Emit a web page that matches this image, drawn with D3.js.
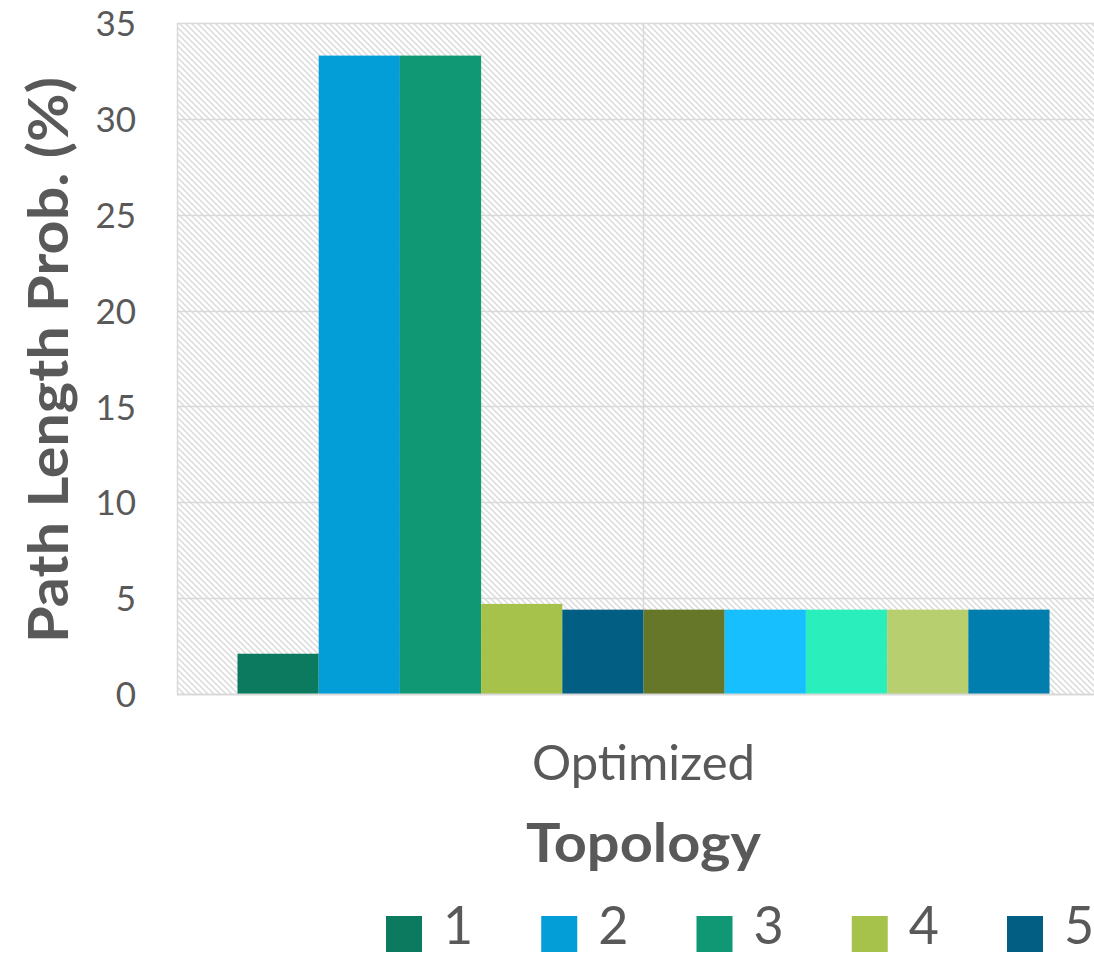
<!DOCTYPE html>
<html>
<head>
<meta charset="utf-8">
<script src="https://cdn.jsdelivr.net/npm/d3@7"></script>
<style>
  html, body { margin: 0; padding: 0; background: #fff; }
  svg { display: block; }
  text { font-family: Lato, "Open Sans", sans-serif; fill: #595959; }
</style>
</head>
<body>
<svg id="chart" width="1094" height="957"></svg>
<script>
// ---- data ----
const categories = ["Optimized"];
const seriesNames = ["1", "2", "3", "4", "5", "6", "7", "8", "9", "10"];
const seriesValues = [2.1, 33.3, 33.3, 4.7, 4.4, 4.4, 4.4, 4.4, 4.4, 4.4];
const seriesColors = ["#0B7A5E", "#039DD8", "#0F9873", "#A7C24A", "#025E82",
                      "#66772A", "#17BFFF", "#2AEFBC", "#B8CF70", "#007EAD"];
const yTicks = [0, 5, 10, 15, 20, 25, 30, 35];
const yTitle = "Path Length Prob. (%)";
const xTitle = "Topology";
const legendShown = 5; // only the first five legend entries are visible in the reference

// ---- layout ----
const svg = d3.select("#chart");
const plot = { left: 177, right: 1110, top: 23, bottom: 694 };

const x0 = d3.scaleBand().domain(categories).range([plot.left, plot.right]).padding(0);
const x1 = d3.scaleBand().domain(seriesNames).range([0, x0.bandwidth()])
  .paddingInner(0).paddingOuter(0.745);
const y = d3.scaleLinear().domain([0, 35]).range([plot.bottom, plot.top]);

// hatch pattern
const defs = svg.append("defs");
const pat = defs.append("pattern").attr("id", "hatch")
  .attr("patternUnits", "userSpaceOnUse").attr("width", 6).attr("height", 6);
pat.append("rect").attr("width", 6).attr("height", 6).attr("fill", "#fff");
pat.append("path").attr("d", "M0,0 L6,6 M-1,5 L1,7 M5,-1 L7,1")
  .attr("stroke", "#dadada").attr("stroke-width", 1.5).attr("fill", "none");

svg.append("rect")
  .attr("x", plot.left).attr("y", plot.top)
  .attr("width", plot.right - plot.left).attr("height", plot.bottom - plot.top)
  .attr("fill", "url(#hatch)");

// gridlines
const g = svg.append("g");
g.selectAll("line.h").data(yTicks.filter(d => d > 0)).join("line")
  .attr("x1", plot.left).attr("x2", plot.right)
  .attr("y1", d => Math.round(y(d)) + 0.5).attr("y2", d => Math.round(y(d)) + 0.5)
  .attr("stroke", "#d9d9d9").attr("stroke-width", 1.5);
// left border and center vertical gridline
svg.append("line").attr("x1", plot.left + 0.5).attr("x2", plot.left + 0.5)
  .attr("y1", plot.top).attr("y2", plot.bottom).attr("stroke", "#d9d9d9").attr("stroke-width", 1.5);
const xc = x0(categories[0]) + x0.bandwidth() / 2;
svg.append("line").attr("x1", xc).attr("x2", xc)
  .attr("y1", plot.top).attr("y2", plot.bottom).attr("stroke", "#d9d9d9").attr("stroke-width", 1.5);

// bars
const barData = seriesNames.map((s, i) => ({ cat: categories[0], s, v: seriesValues[i], c: seriesColors[i] }));
svg.append("g").selectAll("rect").data(barData).join("rect")
  .attr("x", d => x0(d.cat) + x1(d.s))
  .attr("width", x1.bandwidth())
  .attr("y", d => y(d.v))
  .attr("height", d => y(0) - y(d.v))
  .attr("fill", d => d.c);

// x axis line
svg.append("line").attr("x1", plot.left).attr("x2", plot.right)
  .attr("y1", plot.bottom + 0.5).attr("y2", plot.bottom + 0.5)
  .attr("stroke", "#d9d9d9").attr("stroke-width", 2);

// y axis (labels only)
const yAxis = d3.axisLeft(y).tickValues(yTicks).tickSize(0).tickPadding(0);
const ya = svg.append("g").attr("transform", `translate(136,0)`).call(yAxis);
ya.select(".domain").remove();
ya.selectAll("text").attr("font-size", 35).attr("font-family", "Lato, sans-serif")
  .attr("fill", "#595959").attr("dy", "0.36em");

// x axis category label
const xAxis = d3.axisBottom(x0).tickSize(0).tickPadding(0);
const xa = svg.append("g").attr("transform", `translate(0,${780})`).call(xAxis);
xa.select(".domain").remove();
xa.selectAll("text").attr("font-size", 49).attr("font-family", "Lato, sans-serif")
  .attr("fill", "#595959").attr("dy", "0").attr("y", 0);

// titles
svg.append("text").attr("x", xc).attr("y", 862).attr("text-anchor", "middle")
  .attr("font-size", 53).attr("font-weight", "bold")
  .attr("textLength", 235).attr("lengthAdjust", "spacingAndGlyphs")
  .text(xTitle);
svg.append("text").attr("transform", "translate(68,360) rotate(-90)")
  .attr("text-anchor", "middle").attr("x", 0).attr("y", 0)
  .attr("font-size", 56).attr("font-weight", "bold")
  .attr("textLength", 566).attr("lengthAdjust", "spacingAndGlyphs")
  .text(yTitle);

// legend
const legendX = d3.scalePoint().domain(seriesNames.slice(0, legendShown)).range([386, 1007]);
const lg = svg.append("g").selectAll("g").data(barData.slice(0, legendShown)).join("g")
  .attr("transform", d => `translate(${legendX(d.s)},916)`);
lg.append("rect").attr("width", 36).attr("height", 36).attr("fill", d => d.c);
lg.append("text").attr("x", 57).attr("y", 28).attr("font-size", 52).text(d => d.s);
</script>
</body>
</html>
